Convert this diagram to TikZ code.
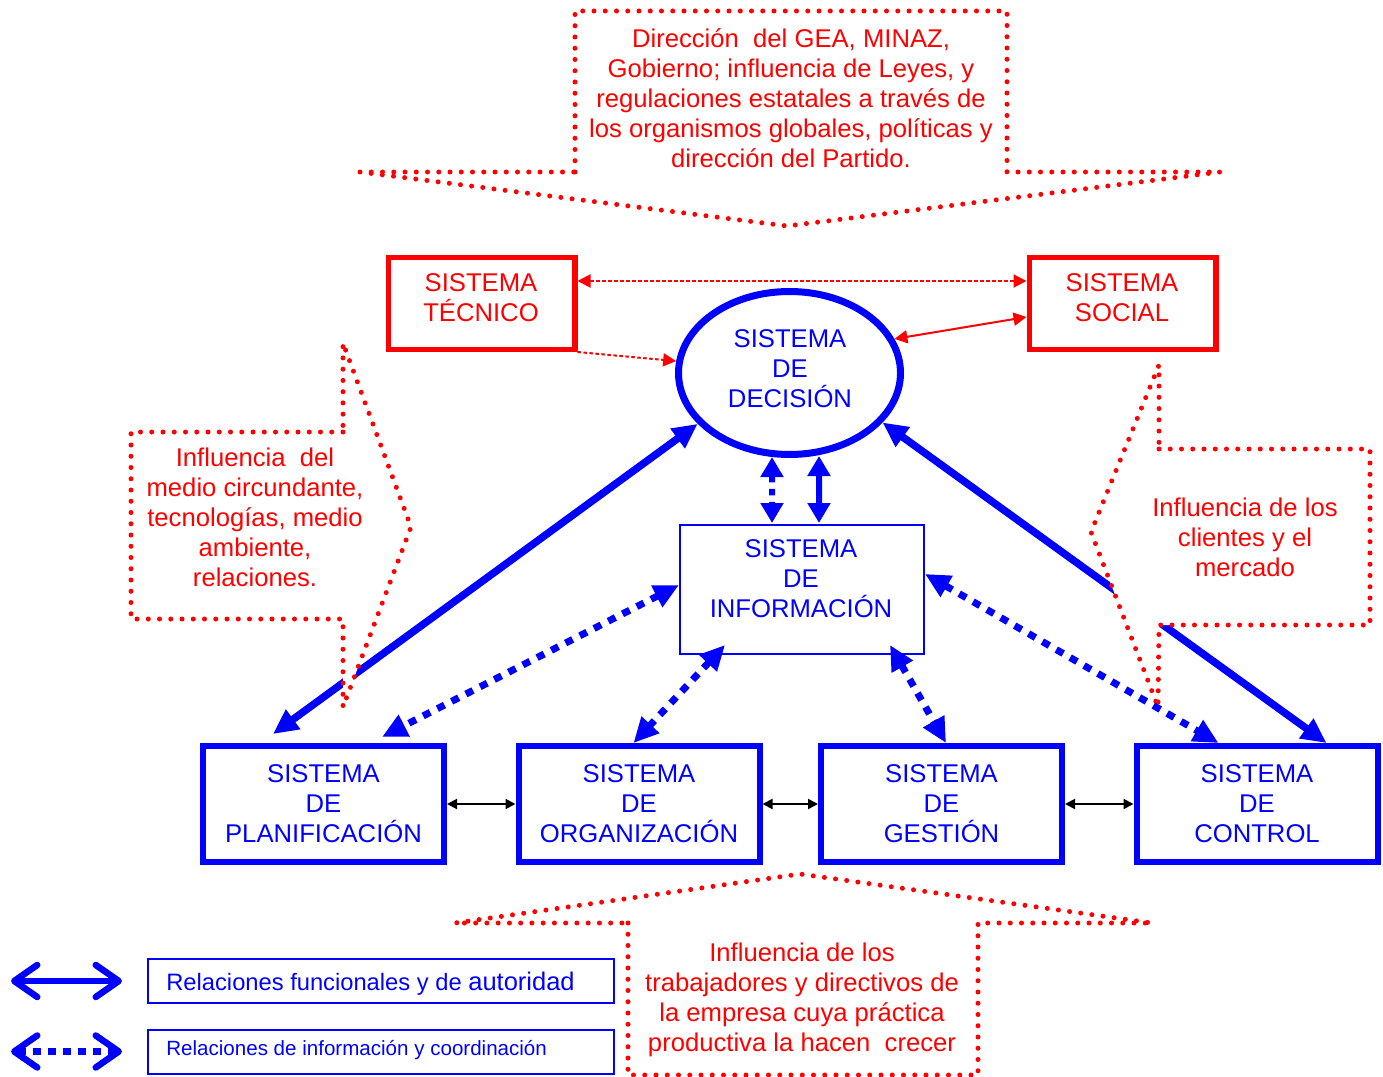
\documentclass[tikz,border=0pt]{standalone}
\usepackage{fontspec}
\setmainfont{Liberation Sans}
\usepackage{tikz}
\usetikzlibrary{arrows.meta,positioning,calc,shapes.geometric}
\definecolor{azul}{RGB}{0,0,255}
\definecolor{rojo}{RGB}{255,0,0}
\newcommand{\letra}{\fontsize{14.6pt}{17.1pt}\selectfont}

\begin{document}
\begin{tikzpicture}[x=0.2mm,y=-0.2mm,
	txt/.style={font=\letra,align=center},
	caja/.style={draw=azul,line width=1.2mm,fill=white,text=azul,txt,minimum width=48.2mm,minimum height=23.2mm,inner sep=0pt},
	cajaroja/.style={draw=rojo,line width=1.1mm,fill=white,minimum width=37.3mm,minimum height=18.3mm,inner sep=0pt},
	cajaley/.style={draw=azul,line width=0.4mm,minimum width=93.2mm,minimum height=8.8mm,inner sep=0pt,anchor=west},
	nube/.style={draw=rojo,fill=white,line width=1mm,dash pattern=on 0pt off 2.25mm,line cap=round,line join=round},
	autoridad/.style={azul,line width=1.5mm,>={Triangle[length=5mm,width=4.6mm]},<->},
	informacion/.style={azul,line width=1.4mm,dash pattern=on 1.6mm off 1.6mm,>={Triangle[length=5mm,width=4.6mm]},<->},
	autovert/.style={azul,line width=1.2mm,>={Triangle[length=4mm,width=4.4mm]},<->},
	infovert/.style={azul,line width=1.2mm,dash pattern=on 1.3mm off 1.3mm,>={Triangle[length=4mm,width=4.4mm]},<->},
	rojapunta/.style={rojo,line width=0.4mm,>={Triangle[length=2.6mm,width=2.6mm]}},
	negra/.style={black,line width=0.4mm,>={Triangle[length=2mm,width=2mm]},<->},
	leyflecha/.style={azul,line width=1.3mm,>={Straight Barb[length=4.6mm,width=6.4mm,round]},<->}]
	\useasboundingbox (0,0) rectangle (1383,1077);
	\node[cajaroja] (tecnico) at (481.5,303.5) {};
	\node[txt,text=rojo] (tecnicotxt) at (481,298) {SISTEMA\\TÉCNICO};
	\node[cajaroja] (social) at (1122.5,303.5) {};
	\node[txt,text=rojo] (socialtxt) at (1122,298) {SISTEMA\\SOCIAL};
	\node[ellipse,draw=azul,line width=1.4mm,fill=white,minimum width=44.4mm,minimum height=32.6mm,inner sep=0pt] (decision) at (789.5,373) {};
	\node[txt,text=azul] (decisiontxt) at (790,369) {SISTEMA\\DE\\DECISIÓN};
	\node[draw=azul,line width=0.4mm,fill=white,minimum width=48.8mm,minimum height=25.8mm,inner sep=0pt] (info) at (802,589.5) {};
	\node[txt,text=azul] (infotxt) at (801,579) {SISTEMA\\DE\\INFORMACIÓN};
	\node[caja] (plan) at (323.5,804) {SISTEMA\\DE\\PLANIFICACIÓN};
	\node[caja] (org) at (639,804) {SISTEMA\\DE\\ORGANIZACIÓN};
	\node[caja] (gest) at (941.5,804) {SISTEMA\\DE\\GESTIÓN};
	\node[caja] (ctrl) at (1257,804) {SISTEMA\\DE\\CONTROL};
	\draw[autoridad] (decision.209) -- ($(plan.north west)+(73,-9)$);
	\draw[autoridad] (decision.332) -- ($(ctrl.north west)+(193,0)$);
	\draw[nube] (575,172) -- (575,11) -- (1007,11) -- (1007,172) -- (1220,172) -- (787,226) -- (360,172) -- cycle;
	\draw[nube] (628,923) -- (628,1075) -- (978,1075) -- (978,923) -- (1152,923) -- (800,874) -- (455,923) -- cycle;
	\draw[nube] (343,432) -- (131,432) -- (131,619) -- (343,619) -- (343,707) -- (411,527) -- (343,343) -- cycle;
	\draw[nube] (1159,449) -- (1370,449) -- (1370,625) -- (1159,625) -- (1158,707) -- (1091,532) -- (1159,365) -- cycle;
	\node[txt,text=rojo] (gobierno) at (791,98) {Dirección~ del GEA, MINAZ,\\Gobierno; influencia de Leyes, y\\regulaciones estatales a través de\\los organismos globales, políticas y\\dirección del Partido.};
	\node[txt,text=rojo] (entorno) at (255,517) {Influencia~ del\\medio circundante,\\tecnologías, medio\\ambiente,\\relaciones.};
	\node[txt,text=rojo] (mercado) at (1245,537) {Influencia de los\\clientes y el\\mercado};
	\node[txt,text=rojo] (trabajadores) at (802,1000) {Influencia de los\\trabajadores y directivos de\\la empresa cuya práctica\\productiva la hacen~ crecer};
	\draw[infovert] ($(decision.south)+(-17.5,-1)$) -- ($(info.north west)+(93,-1)$);
	\draw[autovert] ($(decision.south)+(29.5,-2)$) -- ($(info.north west)+(140,-1)$);
	\draw[informacion] ($(info.north west)+(0,61)$) -- ($(plan.north west)+(182,-6)$);
	\draw[informacion] ($(info.south west)+(46,-10)$) -- ($(org.north west)+(118,0)$);
	\draw[informacion] ($(info.south west)+(211,-10)$) -- ($(gest.north west)+(128,0)$);
	\draw[informacion] ($(info.north east)+(0,50)$) -- ($(ctrl.north west)+(85,0)$);
	\draw[rojapunta,<->,dash pattern=on 0.7mm off 0.5mm] ($(tecnico.north east)+(0,26)$) -- ($(social.north west)+(0,26)$);
	\draw[rojapunta,->,dash pattern=on 0.7mm off 0.5mm] (tecnico.south east) -- (decision.174);
	\draw[rojapunta,<->] (decision.18) -- ($(social.north west)+(0,62)$);
	\draw[negra] (plan.east) -- (org.west);
	\draw[negra] (org.east) -- (gest.west);
	\draw[negra] (gest.east) -- (ctrl.west);
	\node[cajaley] (ley1) at (147,981) {};
	\node[anchor=west,text=azul,inner sep=0pt] (ley1txt) at (166,984) {{\fontsize{13.5pt}{16pt}\selectfont Relaciones funcionales y de }{\fontsize{14.5pt}{16pt}\selectfont autoridad}};
	\node[cajaley] (ley2) at (147,1051.5) {};
	\node[anchor=west,text=azul,inner sep=0pt] (ley2txt) at (166,1050.5) {\fontsize{11.7pt}{14pt}\selectfont Relaciones de información y coordinación};
	\coordinate (l1a) at (11,981);
	\coordinate (l1b) at (122,981);
	\coordinate (l2a) at (11,1051.5);
	\coordinate (l2b) at (122,1051.5);
	\draw[leyflecha] (l1a) -- (l1b);
	\draw[leyflecha,dash pattern=on 1.6mm off 1.4mm] (l2a) -- (l2b);
\end{tikzpicture}
\end{document}
